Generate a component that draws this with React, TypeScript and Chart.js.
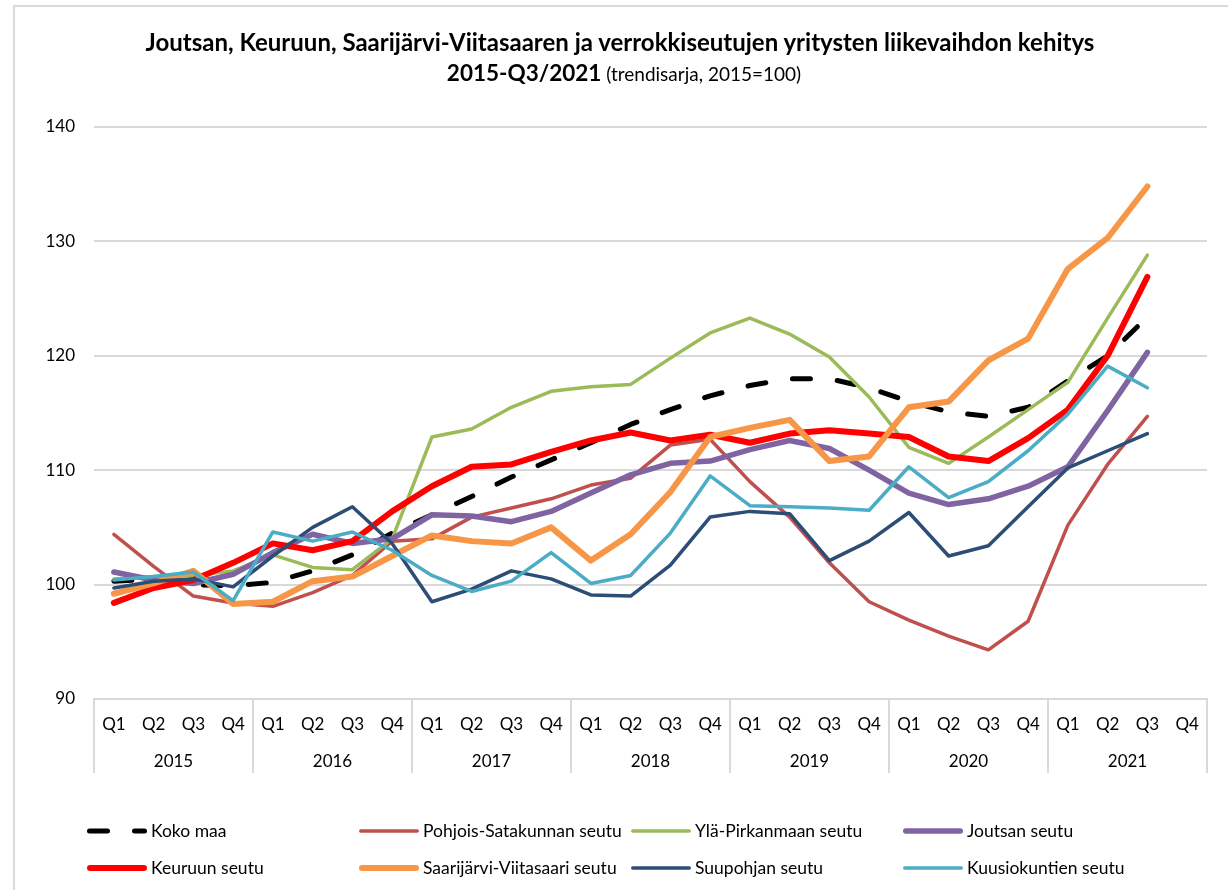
import React, { useEffect, useRef } from "react";
import { Chart, registerables } from "chart.js";

Chart.register(...registerables);

const FONT = "Lato, 'Open Sans', sans-serif";

const QUARTERS = [
  "Q1","Q2","Q3","Q4","Q1","Q2","Q3","Q4","Q1","Q2","Q3","Q4","Q1","Q2",
  "Q3","Q4","Q1","Q2","Q3","Q4","Q1","Q2","Q3","Q4","Q1","Q2","Q3","Q4",
];
const YEARS = ["2015", "2016", "2017", "2018", "2019", "2020", "2021"];
const Y_TICKS = [90, 100, 110, 120, 130, 140];

const kokoMaa = [100.3, 100.5, 100.0, 99.9, 100.2, 101.2, 102.6, 104.5, 106.1, 107.7, 109.4, 110.9, 112.4, 114.0, 115.3, 116.5, 117.4, 118.0, 118.0, 117.2, 116.0, 115.1, 114.7, 115.5, 117.8, 120.0, 123.4, null];
const pohjoisSatakunta = [104.4, 101.6, 99.0, 98.4, 98.1, 99.3, 100.8, 103.8, 104.0, 105.9, 106.7, 107.5, 108.7, 109.3, 112.2, 112.7, 109.0, 105.9, 101.9, 98.5, 96.9, 95.5, 94.3, 96.8, 105.2, 110.5, 114.7, null];
const ylaPirkanmaa = [100.5, 100.7, 100.8, 101.2, 102.6, 101.5, 101.3, 104.0, 112.9, 113.6, 115.5, 116.9, 117.3, 117.5, 119.8, 122.0, 123.3, 121.9, 119.9, 116.4, 112.0, 110.6, 112.9, 115.3, 117.7, 123.3, 128.8, null];
const joutsa = [101.1, 100.4, 100.1, 100.9, 102.8, 104.4, 103.6, 104.0, 106.1, 106.0, 105.5, 106.4, 108.0, 109.6, 110.6, 110.8, 111.8, 112.6, 111.9, 110.0, 108.0, 107.0, 107.5, 108.6, 110.3, 115.2, 120.3, null];
const keuruu = [98.4, 99.7, 100.4, 101.9, 103.6, 103.0, 103.8, 106.4, 108.6, 110.3, 110.5, 111.6, 112.6, 113.3, 112.6, 113.1, 112.4, 113.2, 113.5, 113.2, 112.9, 111.2, 110.8, 112.8, 115.3, 120.0, 126.9, null];
const saarijarviViitasaari = [99.2, 100.1, 101.2, 98.3, 98.5, 100.3, 100.7, 102.5, 104.3, 103.8, 103.6, 105.0, 102.1, 104.4, 108.1, 112.9, 113.7, 114.4, 110.8, 111.2, 115.5, 116.0, 119.6, 121.5, 127.6, 130.3, 134.8, null];
const suupohja = [99.7, 100.3, 100.5, 99.8, 102.5, 105.0, 106.8, 103.6, 98.5, 99.6, 101.2, 100.5, 99.1, 99.0, 101.7, 105.9, 106.4, 106.2, 102.1, 103.8, 106.3, 102.5, 103.4, 106.8, 110.2, 111.7, 113.2, null];
const kuusiokunnat = [100.4, 100.7, 101.1, 98.6, 104.6, 103.8, 104.6, 103.0, 100.8, 99.4, 100.3, 102.8, 100.1, 100.8, 104.5, 109.5, 106.9, 106.8, 106.7, 106.5, 110.3, 107.6, 109.0, 111.7, 114.9, 119.1, 117.2, null];

const SERIES_NAMES = [
  "Koko maa",
  "Pohjois-Satakunnan seutu",
  "Ylä-Pirkanmaan seutu",
  "Joutsan seutu",
  "Keuruun seutu",
  "Saarijärvi-Viitasaari seutu",
  "Suupohjan seutu",
  "Kuusiokuntien seutu",
];
const SERIES_VALUES = [kokoMaa, pohjoisSatakunta, ylaPirkanmaa, joutsa, keuruu, saarijarviViitasaari, suupohja, kuusiokunnat];
const SERIES_COLORS = ["#000000", "#C0504D", "#9BBB59", "#8064A2", "#FF0000", "#F79646", "#2C4D75", "#4BACC6"];
const SERIES_WIDTHS = [5, 3.5, 3.5, 5.5, 6, 6, 3.5, 3.5];
const SERIES_DASHES: number[][] = [[18, 27], [], [], [], [], [], [], []];

const GRID = "#D9D9D9";
const TICK_SIZE = 17;

const framePlugin = {
  id: "frame",
  beforeDraw(chart: any) {
    const ctx = chart.ctx;
    ctx.save();
    ctx.strokeStyle = GRID;
    ctx.lineWidth = 2;
    ctx.beginPath();
    ctx.moveTo(14, chart.height + 10);
    ctx.lineTo(14, 6);
    ctx.lineTo(chart.width + 10, 6);
    ctx.stroke();
    ctx.restore();
  },
};

const yearGroupPlugin = {
  id: "yearGroups",
  afterDraw(chart: any) {
    const x = chart.scales.x;
    const ctx = chart.ctx;
    const bottom = chart.chartArea.bottom;
    const half = (x.getPixelForValue(1) - x.getPixelForValue(0)) / 2;
    ctx.save();
    ctx.strokeStyle = GRID;
    ctx.lineWidth = 2;
    ctx.fillStyle = "#000";
    ctx.font = `${TICK_SIZE}px ${FONT}`;
    ctx.textAlign = "center";
    ctx.textBaseline = "middle";
    YEARS.forEach((yr, k) => {
      const l = x.getPixelForValue(k * 4) - half;
      const r = x.getPixelForValue(k * 4 + 3) + half;
      ctx.beginPath();
      ctx.moveTo(l, bottom);
      ctx.lineTo(l, bottom + 74);
      if (k === YEARS.length - 1) {
        ctx.moveTo(r, bottom);
        ctx.lineTo(r, bottom + 74);
      }
      ctx.stroke();
      ctx.fillText(yr, (l + r) / 2, bottom + 63);
    });
    ctx.restore();
  },
};

const legendPlugin = {
  id: "gridLegend",
  afterDraw(chart: any) {
    const ctx = chart.ctx;
    ctx.save();
    chart.data.datasets.forEach((ds: any, i: number) => {
      const col = i % 4;
      const row = Math.floor(i / 4);
      const x0 = 87 + col * 272;
      const y = 831 + row * 37;
      const w = ds.borderWidth;
      ctx.beginPath();
      ctx.strokeStyle = ds.borderColor;
      ctx.lineWidth = w;
      ctx.lineCap = "round";
      ctx.setLineDash(ds.borderDash || []);
      ctx.moveTo(x0 + w / 2, y);
      ctx.lineTo(x0 + 60 - w / 2, y);
      ctx.stroke();
      ctx.setLineDash([]);
      ctx.fillStyle = "#000";
      ctx.font = `17.5px ${FONT}`;
      ctx.textAlign = "left";
      ctx.textBaseline = "middle";
      ctx.fillText(ds.label, x0 + 64, y);
    });
    ctx.restore();
  },
};

function LineChart() {
  const ref = useRef<HTMLCanvasElement | null>(null);
  useEffect(() => {
    if (!ref.current) return;
    const n = SERIES_NAMES.length;
    const chart = new Chart(ref.current, {
      type: "line",
      data: {
        labels: QUARTERS,
        datasets: SERIES_NAMES.map((name, i) => ({
          label: name,
          data: SERIES_VALUES[i],
          borderColor: SERIES_COLORS[i],
          backgroundColor: SERIES_COLORS[i],
          borderWidth: SERIES_WIDTHS[i],
          borderDash: SERIES_DASHES[i],
          borderCapStyle: "round" as const,
          borderJoinStyle: "round" as const,
          pointRadius: 0,
          tension: 0,
          fill: false,
          order: n - 1 - i,
        })),
      },
      options: {
        responsive: false,
        animation: false,
        layout: { padding: { top: 127, right: 21, left: 0, bottom: 0 } },
        plugins: {
          legend: { display: false },
          title: { display: false },
          tooltip: { enabled: false },
        },
        scales: {
          x: {
            type: "category",
            offset: true,
            grid: { display: false, drawTicks: false },
            border: { display: true, color: GRID, width: 2 },
            ticks: {
              color: "#000",
              font: { family: FONT, size: TICK_SIZE },
              padding: 15,
              maxRotation: 0,
              autoSkip: false,
            },
            afterFit: (s: any) => {
              s.height = 191;
            },
          },
          y: {
            min: Y_TICKS[0],
            max: Y_TICKS[Y_TICKS.length - 1],
            afterBuildTicks: (s: any) => {
              s.ticks = Y_TICKS.map((v) => ({ value: v }));
            },
            grid: { color: GRID, lineWidth: 2, drawTicks: false },
            border: { display: false },
            ticks: {
              color: "#000",
              font: { family: FONT, size: TICK_SIZE },
              padding: 19,
            },
            afterFit: (s: any) => {
              s.width = 94;
            },
          },
        },
      },
      plugins: [framePlugin, yearGroupPlugin, legendPlugin],
    });
    return () => chart.destroy();
  }, []);
  return <canvas ref={ref} width={1228} height={890} style={{ display: "block" }} />;
}

export default function App() {
  return (
    <div style={{ position: "absolute", left: 0, top: 0, width: 1228, height: 890, background: "#fff", overflow: "hidden" }}>
      <LineChart />
      <div
        style={{
          position: "absolute",
          left: 10,
          width: 1220,
          top: 28,
          textAlign: "center",
          fontFamily: FONT,
          fontWeight: 700,
          fontSize: 24,
          lineHeight: "28px",
          color: "#000",
          whiteSpace: "nowrap",
        }}
      >
        Joutsan, Keuruun, Saarijärvi-Viitasaaren ja verrokkiseutujen yritysten liikevaihdon kehitys
      </div>
      <div
        style={{
          position: "absolute",
          left: 20,
          width: 1208,
          top: 59,
          textAlign: "center",
          fontFamily: FONT,
          color: "#000",
          whiteSpace: "nowrap",
          lineHeight: "28px",
        }}
      >
        <span style={{ fontWeight: 700, fontSize: 22.5 }}>2015-Q3/2021</span>
        <span style={{ fontWeight: 400, fontSize: 19 }}> (trendisarja, 2015=100)</span>
      </div>
    </div>
  );
}
